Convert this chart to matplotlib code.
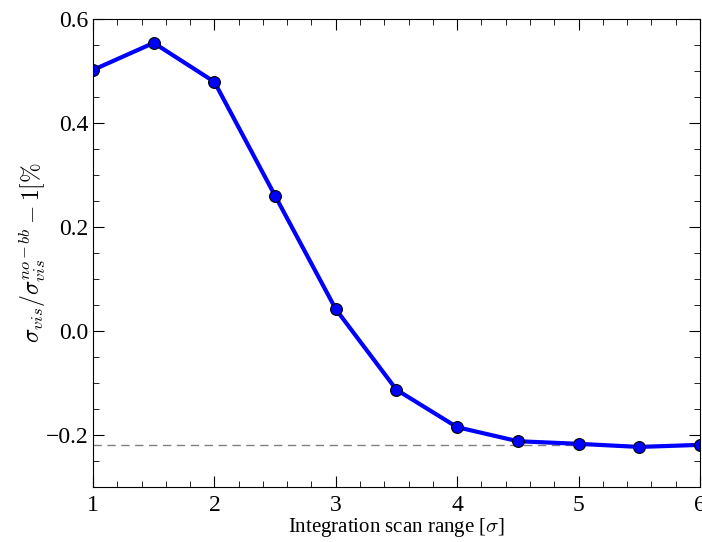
import numpy as np
import matplotlib
matplotlib.use("Agg")
import matplotlib.pyplot as plt
from matplotlib.ticker import MultipleLocator

# scan range [sigma] and relative deviation [%]
scan_range = [1.0, 1.5, 2.0, 2.5, 3.0, 3.5, 4.0, 4.5, 5.0, 5.5, 6.0]
deviation = [0.502, 0.554, 0.479, 0.260, 0.042, -0.113, -0.185, -0.212, -0.217, -0.223, -0.219]
asymptote = -0.219

plt.rcParams['font.family'] = 'serif'
plt.rcParams['font.serif'] = ['Liberation Serif', 'DejaVu Serif']
plt.rcParams['mathtext.fontset'] = 'cm'

fig = plt.figure(figsize=(7.02, 5.42), dpi=100)
ax = fig.add_axes([0.1325, 0.1015, 0.8645, 0.8635])

ax.axhline(asymptote, color='gray', ls='--', lw=1, dashes=(6, 4))
ax.plot(scan_range, deviation, '-o', color='blue', lw=3, ms=8.5,
        markeredgecolor='black', markeredgewidth=0.8)

ax.set_xlim(1, 6)
ax.set_ylim(-0.3, 0.6)
ax.xaxis.set_major_locator(MultipleLocator(1))
ax.xaxis.set_minor_locator(MultipleLocator(0.2))
ax.yaxis.set_major_locator(MultipleLocator(0.2))
ax.yaxis.set_minor_locator(MultipleLocator(0.05))
ax.tick_params(which='both', direction='in', top=True, right=True, labelsize=17)
ax.tick_params(which='major', length=8)
ax.tick_params(which='minor', length=4)
ax.tick_params(axis='x', pad=6)

ax.set_xlabel(r'Integration scan range [$\sigma$]', fontsize=15, labelpad=0)
ax.set_ylabel(r'$\sigma_{vis}/\sigma_{vis}^{no-bb} - 1 [\%$', fontsize=17, labelpad=-2)

fig.savefig("out.png", dpi=100)
